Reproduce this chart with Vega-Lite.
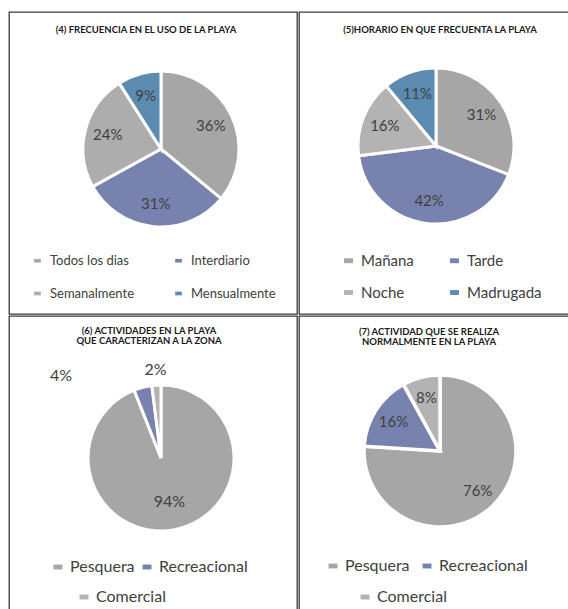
{
  "$schema": "https://vega.github.io/schema/vega-lite/v6.json",
  "padding": {"left": 8, "top": 11, "right": 0, "bottom": 0},
  "background": "white",
  "spacing": 0,
  "resolve": {"scale": {"color": "independent"}, "legend": {"color": "independent"}},
  "config": {
    "view": {"stroke": "#3a3a3a", "strokeWidth": 1.3},
    "concat": {"spacing": 0},
    "title": {"font": "Lato", "fontSize": 9.5, "fontWeight": "bold", "color": "#1a1a1a", "anchor": "middle", "frame": "group", "lineHeight": 10},
    "legend": {"labelFont": "Lato", "labelColor": "#404040", "symbolType": "M-1,-0.55H1V0.55H-1Z", "symbolStrokeWidth": 0, "title": null, "direction": "horizontal"},
    "text": {"font": "Lato", "color": "#404040"}
  },
  "vconcat": [
    {
      "resolve": {"scale": {"color": "independent"}, "legend": {"color": "independent"}},
      "hconcat": [
        {
          "width": 288, "height": 302,
          "view": {"stroke": "#3a3a3a", "strokeWidth": 1.3},
          "title": {"text": "(4) FRECUENCIA EN EL USO DE LA PLAYA", "offset": -22, "dx": -7},
          "data": {"values": [
            {"cat": "Todos los dias", "pct": 0.36, "ord": 1},
            {"cat": "Interdiario", "pct": 0.31, "ord": 2},
            {"cat": "Semanalmente", "pct": 0.24, "ord": 3},
            {"cat": "Mensualmente", "pct": 0.09, "ord": 4}
          ]},
          "encoding": {
            "theta": {"field": "pct", "type": "quantitative", "stack": true},
            "order": {"field": "ord", "type": "quantitative"}
          },
          "layer": [
            {
              "mark": {"type": "arc", "radius": 78, "stroke": "white", "strokeWidth": 3, "xOffset": 8, "yOffset": -14},
              "encoding": {
                "color": {"field": "cat", "type": "nominal",
                  "scale": {"domain": ["Todos los dias", "Interdiario", "Semanalmente", "Mensualmente"], "range": ["#A6A6A6", "#7783AE", "#ADADAD", "#5B8BB0"]},
                  "legend": {"orient": "none", "legendX": 22, "legendY": 242, "columns": 2, "gridAlign": "all", "columnPadding": 37, "rowPadding": 19, "labelFontSize": 13, "symbolSize": 45, "labelOffset": 6}
                }
              }
            },
            {
              "mark": {"type": "text", "radius": 55, "fontSize": 15, "xOffset": 8, "yOffset": -14},
              "encoding": {"text": {"field": "pct", "type": "quantitative", "format": ".0%"}}
            }
          ]
        },
        {
          "width": 272, "height": 302,
          "view": {"stroke": "#3a3a3a", "strokeWidth": 1.3},
          "title": {"text": "(5)HORARIO  EN QUE FRECUENTA LA PLAYA", "offset": -22, "dx": 5},
          "data": {"values": [
            {"cat": "Mañana", "pct": 0.31, "ord": 1},
            {"cat": "Tarde", "pct": 0.42, "ord": 2},
            {"cat": "Noche", "pct": 0.16, "ord": 3},
            {"cat": "Madrugada", "pct": 0.11, "ord": 4}
          ]},
          "encoding": {
            "theta": {"field": "pct", "type": "quantitative", "stack": true},
            "order": {"field": "ord", "type": "quantitative"}
          },
          "layer": [
            {
              "mark": {"type": "arc", "radius": 78, "stroke": "white", "strokeWidth": 3, "xOffset": 1, "yOffset": -17},
              "encoding": {
                "color": {"field": "cat", "type": "nominal",
                  "scale": {"domain": ["Mañana", "Tarde", "Noche", "Madrugada"], "range": ["#A6A6A6", "#7783AE", "#B3B3B3", "#5B8BB0"]},
                  "legend": {"orient": "none", "legendX": 42, "legendY": 241, "columns": 2, "gridAlign": "all", "columnPadding": 11, "rowPadding": 16, "labelFontSize": 15, "symbolSize": 80, "labelOffset": 5}
                }
              }
            },
            {
              "mark": {"type": "text", "radius": 55, "fontSize": 15, "xOffset": 1, "yOffset": -17},
              "encoding": {"text": {"field": "pct", "type": "quantitative", "format": ".0%"}}
            }
          ]
        }
      ]
    },
    {
      "resolve": {"scale": {"color": "independent"}, "legend": {"color": "independent"}},
      "hconcat": [
        {
          "width": 288, "height": 296,
          "view": {"stroke": "#3a3a3a", "strokeWidth": 1.3},
          "title": {"text": ["(6) ACTIVIDADES EN LA PLAYA", "QUE CARACTERIZAN A LA ZONA"], "offset": -29, "dx": -4},
          "data": {"values": [
            {"cat": "Pesquera", "pct": 0.94, "ord": 1},
            {"cat": "Recreacional", "pct": 0.04, "ord": 2},
            {"cat": "Comercial", "pct": 0.02, "ord": 3}
          ]},
          "encoding": {
            "theta": {"field": "pct", "type": "quantitative", "stack": true},
            "order": {"field": "ord", "type": "quantitative"}
          },
          "resolve": {"scale": {"color": "independent"}, "legend": {"color": "independent"}},
          "layer": [
            {
              "mark": {"type": "arc", "radius": 73, "stroke": "white", "strokeWidth": 3, "xOffset": 8, "yOffset": -6},
              "encoding": {
                "color": {"field": "cat", "type": "nominal",
                  "scale": {"domain": ["Pesquera", "Recreacional", "Comercial"], "range": ["#A6A6A6", "#7783AE", "#B3B3B3"]},
                  "legend": {"orient": "none", "legendX": 41, "legendY": 243, "values": ["Pesquera", "Recreacional"], "columns": 2, "gridAlign": "none", "columnPadding": 4, "labelFontSize": 16, "symbolSize": 80, "labelOffset": 4}
                }
              }
            },
            {
              "mark": {"type": "text", "xOffset": 8, "yOffset": -6},
              "encoding": {
                "text": {"value": ""},
                "color": {"field": "cat", "type": "nominal",
                  "scale": {"domain": ["Pesquera", "Recreacional", "Comercial"], "range": ["#A6A6A6", "#7783AE", "#B3B3B3"]},
                  "legend": {"orient": "none", "legendX": 67, "legendY": 273, "values": ["Comercial"], "labelFontSize": 16, "symbolSize": 80, "labelOffset": 4, "symbolType": "M-1,-0.55H1V0.55H-1Z"}
                }
              }
            },
            {
              "mark": {"type": "text", "radius": 45, "fontSize": 16, "xOffset": 8, "yOffset": -6},
              "encoding": {"text": {"condition": {"test": "datum.pct >= 0.05", "field": "pct", "type": "quantitative", "format": ".0%"}, "value": ""}}
            },
            {
              "mark": {"type": "text", "radius": 88, "fontSize": 16, "xOffset": 8, "yOffset": -6},
              "encoding": {"text": {"condition": {"test": "datum.cat === 'Comercial'", "field": "pct", "type": "quantitative", "format": ".0%"}, "value": ""}}
            },
            {
              "mark": {"type": "text", "radius": 88, "fontSize": 16, "xOffset": 8, "yOffset": -6, "dx": -78, "dy": 3},
              "encoding": {"text": {"condition": {"test": "datum.cat === 'Recreacional'", "field": "pct", "type": "quantitative", "format": ".0%"}, "value": ""}}
            }
          ]
        },
        {
          "width": 272, "height": 296,
          "view": {"stroke": "#3a3a3a", "strokeWidth": 1.3},
          "title": {"text": ["(7) ACTIVIDAD QUE SE REALIZA", "NORMALMENTE EN LA PLAYA"], "offset": -30, "dx": -6},
          "data": {"values": [
            {"cat": "Pesquera", "pct": 0.76, "ord": 1},
            {"cat": "Recreacional", "pct": 0.16, "ord": 2},
            {"cat": "Comercial", "pct": 0.08, "ord": 3}
          ]},
          "encoding": {
            "theta": {"field": "pct", "type": "quantitative", "stack": true},
            "order": {"field": "ord", "type": "quantitative"}
          },
          "resolve": {"scale": {"color": "independent"}, "legend": {"color": "independent"}},
          "layer": [
            {
              "mark": {"type": "arc", "radius": 76, "stroke": "white", "strokeWidth": 3.5, "xOffset": 5, "yOffset": -13},
              "encoding": {
                "color": {"field": "cat", "type": "nominal",
                  "scale": {"domain": ["Pesquera", "Recreacional", "Comercial"], "range": ["#A6A6A6", "#7783AE", "#B3B3B3"]},
                  "legend": {"orient": "none", "legendX": 26, "legendY": 242, "values": ["Pesquera", "Recreacional"], "columns": 2, "gridAlign": "none", "columnPadding": 9, "labelFontSize": 16, "symbolSize": 80, "labelOffset": 4}
                }
              }
            },
            {
              "mark": {"type": "text", "xOffset": 5, "yOffset": -13},
              "encoding": {
                "text": {"value": ""},
                "color": {"field": "cat", "type": "nominal",
                  "scale": {"domain": ["Pesquera", "Recreacional", "Comercial"], "range": ["#A6A6A6", "#7783AE", "#B3B3B3"]},
                  "legend": {"orient": "none", "legendX": 58, "legendY": 273, "values": ["Comercial"], "labelFontSize": 16, "symbolSize": 80, "labelOffset": 4, "symbolType": "M-1,-0.55H1V0.55H-1Z"}
                }
              }
            },
            {
              "mark": {"type": "text", "radius": 55, "fontSize": 15, "xOffset": 5, "yOffset": -13},
              "encoding": {"text": {"field": "pct", "type": "quantitative", "format": ".0%"}}
            }
          ]
        }
      ]
    }
  ]
}
